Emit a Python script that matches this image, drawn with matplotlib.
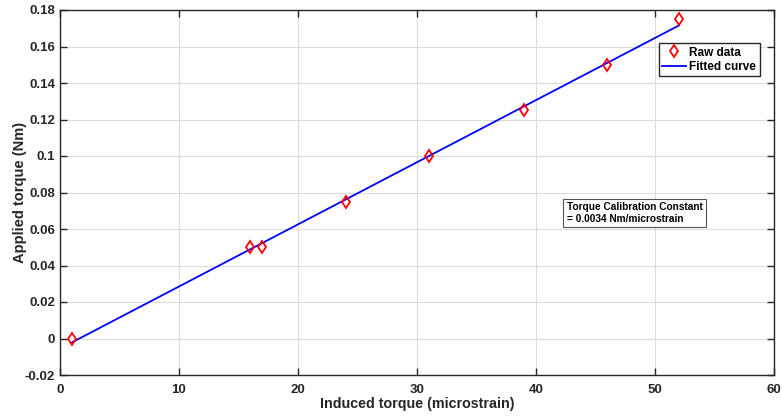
import numpy as np
import matplotlib
matplotlib.use("Agg")
import matplotlib.pyplot as plt

# Calibration measurements
induced_torque = [1, 16, 17, 24, 31, 39, 46, 52]          # microstrain
applied_torque = [0.0, 0.05, 0.05, 0.075, 0.10, 0.125, 0.15, 0.175]  # Nm

x_ticks = [0, 10, 20, 30, 40, 50, 60]
y_ticks = [-0.02, 0, 0.02, 0.04, 0.06, 0.08, 0.1, 0.12, 0.14, 0.16, 0.18]
y_tick_labels = ["-0.02", "0", "0.02", "0.04", "0.06", "0.08", "0.1",
                 "0.12", "0.14", "0.16", "0.18"]

# Linear least-squares fit
slope, intercept = np.polyfit(induced_torque, applied_torque, 1)
x_fit = np.array([min(induced_torque), max(induced_torque)])
y_fit = slope * x_fit + intercept

plt.rcParams["font.family"] = ["Liberation Sans", "DejaVu Sans"]

fig = plt.figure(figsize=(7.82, 4.16), dpi=100)
ax = fig.add_axes([60 / 782, 41 / 416, 714 / 782, 365 / 416])

ax.plot(induced_torque, applied_torque, linestyle="none", marker="d",
        markersize=6, markerfacecolor="none", markeredgecolor="red",
        markeredgewidth=1.3, label="Raw data", zorder=3)
ax.plot(x_fit, y_fit, color="blue", linewidth=1.3, label="Fitted curve",
        zorder=2)

ax.set_xlim(0, 60)
ax.set_ylim(-0.02, 0.18)
ax.set_xticks(x_ticks)
ax.set_yticks(y_ticks)
ax.set_yticklabels(y_tick_labels)

ax.grid(True, color="#dcdcdc", linewidth=0.8)
ax.set_axisbelow(True)
ax.tick_params(direction="in", top=True, right=True, length=5, width=1.0,
               labelsize=9.5, colors="#262626")
ax.tick_params(axis="x", pad=6.5)
for lbl in ax.get_xticklabels() + ax.get_yticklabels():
    lbl.set_fontweight("bold")
for sp in ax.spines.values():
    sp.set_linewidth(1.0)
    sp.set_color("#262626")

ax.set_xlabel("Induced torque (microstrain)", fontsize=10.3, fontweight="bold",
              color="#262626", labelpad=0.5)
ax.set_ylabel("Applied torque (Nm)", fontsize=10.5, fontweight="bold",
              color="#262626", labelpad=-1.5)

leg = ax.legend(loc="upper right", bbox_to_anchor=(0.980, 0.9096),
                prop={"weight": "bold", "size": 8.5},
                frameon=True, fancybox=False, edgecolor="#262626",
                borderpad=0.3, handlelength=2.0, handletextpad=0.3,
                labelspacing=0.2, borderaxespad=0, framealpha=1)
leg.get_frame().set_linewidth(1.0)

ax.text(0.710, 0.444, "Torque Calibration Constant\n= 0.0034 Nm/microstrain",
        transform=ax.transAxes, fontsize=7.3, fontweight="bold",
        color="black", va="center", ha="left", linespacing=1.2,
        bbox=dict(boxstyle="square,pad=0.35", facecolor="white",
                  edgecolor="#555555", linewidth=0.8))

fig.savefig("out.png", dpi=100)
